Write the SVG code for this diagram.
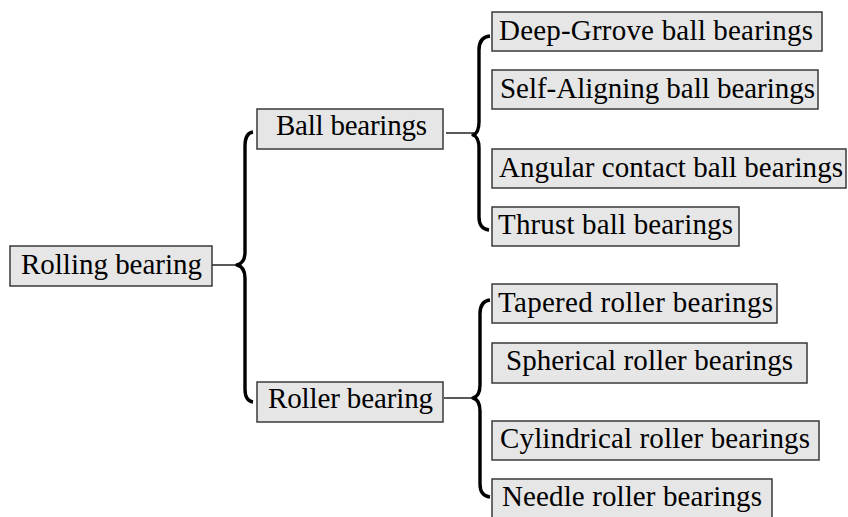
<svg xmlns="http://www.w3.org/2000/svg" width="848" height="517" viewBox="0 0 848 517">
<style>
.box{fill:#e6e6e6;stroke:#3a3a3a;stroke-width:1.5}
.t{font-family:"Liberation Serif","Times New Roman",serif;font-size:29px;fill:#000}
.ln{fill:none;stroke:#222;stroke-width:1.5}
.br{fill:none;stroke:#000;stroke-width:3.4;stroke-linejoin:round}
</style>
<rect width="848" height="517" fill="#fff"/>
<g id="connectors">
<line class="ln" x1="212" y1="265" x2="237" y2="265"/>
<line class="ln" x1="446" y1="133" x2="474" y2="133"/>
<line class="ln" x1="444" y1="398" x2="473" y2="398"/>
<path class="br" d="M253,132 Q245,133 245,146 L245,252 Q245,263 237,265 Q245,267 245,278 L245,389 Q245,401 253,402"/>
<path class="br" d="M490,36 Q479,37 479,50 L479,122 Q479,133 473,135 Q479,137 479,148 L479,217 Q479,229 489,230"/>
<path class="br" d="M490,300 Q480,301 480,314 L480,385 Q480,396 473,398 Q480,400 480,411 L480,484 Q480,496 490,497"/>
</g>
<g id="rolling"><rect class="box" x="10" y="246" width="202" height="40"/><text class="t" x="21" y="274" textLength="181">Rolling bearing</text></g>
<g id="ball"><rect class="box" x="257" y="109" width="186" height="40"/><text class="t" x="276" y="135" textLength="151">Ball bearings</text></g>
<g id="roller"><rect class="box" x="257" y="382" width="186" height="40"/><text class="t" x="268" y="408" textLength="165">Roller bearing</text></g>
<g id="deep"><rect class="box" x="492" y="12" width="330" height="39"/><text class="t" x="499" y="40" textLength="314">Deep-Grrove ball bearings</text></g>
<g id="self"><rect class="box" x="492" y="70" width="326" height="39"/><text class="t" x="500" y="98" textLength="315">Self-Aligning ball bearings</text></g>
<g id="angular"><rect class="box" x="492" y="149" width="354" height="39"/><text class="t" x="499" y="177" textLength="344">Angular contact ball bearings</text></g>
<g id="thrust"><rect class="box" x="492" y="207" width="247" height="39"/><text class="t" x="498" y="234" textLength="235">Thrust ball bearings</text></g>
<g id="tapered"><rect class="box" x="492" y="284" width="285" height="39"/><text class="t" x="498" y="312" textLength="275">Tapered roller bearings</text></g>
<g id="spherical"><rect class="box" x="492" y="343" width="315" height="40"/><text class="t" x="506" y="370" textLength="287">Spherical roller bearings</text></g>
<g id="cylindrical"><rect class="box" x="492" y="421" width="327" height="39"/><text class="t" x="500" y="448" textLength="310">Cylindrical roller bearings</text></g>
<g id="needle"><rect class="box" x="492" y="479" width="280" height="40"/><text class="t" x="502" y="506" textLength="260">Needle roller bearings</text></g>
</svg>
